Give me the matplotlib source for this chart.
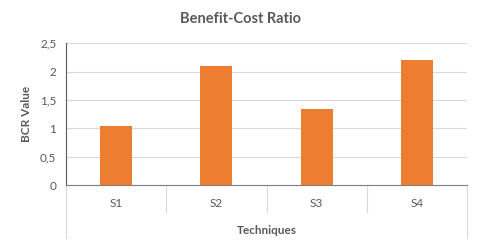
import matplotlib.pyplot as plt
import numpy as np

# Data
techniques = ["S1", "S2", "S3", "S4"]
bcr_values = [1.05, 2.1, 1.35, 2.2]
y_ticks = [0, 0.5, 1, 1.5, 2, 2.5]
y_tick_labels = ["0", "0,5", "1", "1,5", "2", "2,5"]

text_color = "#595959"
grid_color = "#d9d9d9"
bar_color = "#ED7D31"

plt.rcParams["font.family"] = ["Lato", "DejaVu Sans"]

fig = plt.figure(figsize=(4.8, 2.44), dpi=100)
ax = fig.add_axes([0.1375, 0.2406, 0.8355, 0.582])

x = np.arange(len(techniques))
ax.bar(x, bcr_values, width=0.32, color=bar_color, zorder=3)

ax.set_xlim(-0.5, len(techniques) - 0.5)
ax.set_ylim(0, 2.5)
ax.set_yticks(y_ticks)
ax.set_yticklabels(y_tick_labels, fontsize=8.5, color=text_color)
ax.set_xticks([])
ax.tick_params(axis="y", length=0, pad=7)
ax.grid(axis="y", color=grid_color, linewidth=0.8, zorder=0)

for side in ["top", "right"]:
    ax.spines[side].set_visible(False)
ax.spines["left"].set_color("#595959")
ax.spines["bottom"].set_color("#7f7f7f")
ax.spines["left"].set_linewidth(0.8)
ax.spines["bottom"].set_linewidth(0.8)

# category boxes under the axis, excel style
trans = ax.get_xaxis_transform()
for i, edge in enumerate(np.arange(-0.5, len(techniques))):
    low = -0.373 if i in (0, len(techniques)) else -0.19
    ax.plot([edge, edge], [0, low], transform=trans, color=grid_color,
            linewidth=0.8, clip_on=False)
for xi, name in zip(x, techniques):
    ax.text(xi, -0.13, name, transform=trans, ha="center", va="center",
            fontsize=8.5, color=text_color)

ax.text(1.5, -0.315, "Techniques", transform=trans, ha="center", va="center",
        fontsize=8.5, fontweight="bold", color=text_color)
ax.set_ylabel("BCR Value", fontsize=8.5, fontweight="bold", color=text_color, labelpad=6)
fig.text(0.5, 0.922, "Benefit-Cost Ratio", ha="center", va="center",
         fontsize=10.5, fontweight="bold", color=text_color)

fig.savefig("out.png", dpi=100)
